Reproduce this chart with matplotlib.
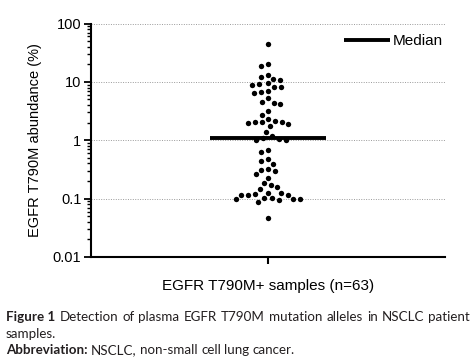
import numpy as np
import matplotlib
matplotlib.use("Agg")
import matplotlib.pyplot as plt
from matplotlib.lines import Line2D

# ---------------- data ----------------
category = "EGFR T790M+ samples (n=63)"
abundance = [44.3, 18.8, 20.1, 11.0, 13.1, 11.9, 10.7, 9.4, 9.2, 8.1, 8.8, 8.1,
             6.8, 6.5, 7.0, 5.2, 4.4, 4.1, 4.6, 3.2, 2.7, 2.03, 2.03, 1.88, 2.29,
             1.75, 2.0, 2.03, 2.16, 1.37, 1.18, 1.01, 1.01, 1.04, 1.08, 0.68,
             0.64, 0.448, 0.479, 0.394, 0.319, 0.299, 0.311, 0.262, 0.230, 0.184,
             0.172, 0.157, 0.147, 0.127, 0.119, 0.124, 0.116, 0.116, 0.102, 0.098,
             0.093, 0.089, 0.098, 0.099, 0.102, 0.116, 0.046]
ytick_vals = [0.01, 0.1, 1, 10, 100]
ytick_labels = ["0.01", "0.1", "1", "10", "100"]
ylabel = "EGFR T790M abundance (%)"
legend_label = "Median"

W, H, DPI = 473, 362, 100
fig = plt.figure(figsize=(W / DPI, H / DPI), dpi=DPI)
fig.patch.set_facecolor("white")

ax_l, ax_r, ax_t, ax_b = 91, 445, 23.5, 257
ax = fig.add_axes([ax_l / W, 1 - ax_b / H, (ax_r - ax_l) / W, (ax_b - ax_t) / H])

ax.set_yscale("log")
ax.set_ylim(ytick_vals[0], ytick_vals[-1])
ax.set_xlim(-1, 1)

# ---- beeswarm layout computed in pixel space ----
vals = np.array(abundance)
px_per_decade = (ax_b - ax_t) / 4.0
px_per_x = (ax_r - ax_l) / 2.0
d = 7.0
ypx = np.log10(vals) * px_per_decade
order = np.argsort(-ypx)
xs = np.zeros(len(vals))
placed = []
for i in order:
    cands = [0.0]
    for j in placed:
        dy = ypx[i] - ypx[j]
        if abs(dy) < d:
            dx = np.sqrt(d * d - dy * dy)
            cands += [xs[j] + dx, xs[j] - dx]
    cands = sorted(cands, key=lambda c: (abs(c), c))
    for c in cands:
        ok = all((c - xs[j]) ** 2 + (ypx[i] - ypx[j]) ** 2 >= d * d - 1e-6 for j in placed)
        if ok:
            xs[i] = c
            break
    placed.append(i)
xdata = xs / px_per_x

ax.scatter(xdata, vals, s=15, color="black", zorder=3, linewidths=0)

med = np.median(vals)
ax.plot([-0.33, 0.33], [med, med], color="black", lw=2.8, zorder=4, solid_capstyle="butt")

# ---- axes styling ----
for s in ["top", "right"]:
    ax.spines[s].set_visible(False)
for s in ["left", "bottom"]:
    ax.spines[s].set_linewidth(1.5)
ax.set_yticks(ytick_vals)
ax.set_yticklabels(ytick_labels)
ax.yaxis.set_minor_locator(matplotlib.ticker.LogLocator(base=10, subs=np.arange(2, 10)))
ax.yaxis.set_minor_formatter(matplotlib.ticker.NullFormatter())
ax.tick_params(axis="y", which="major", length=5, width=1.3, direction="out",
               labelsize=10.5, pad=2)
ax.tick_params(axis="y", which="minor", length=3, width=1.0, direction="out")
ax.set_xticks([0])
ax.set_xticklabels([""])
ax.tick_params(axis="x", length=5, width=1.5, direction="out")
for lab in ax.get_yticklabels():
    lab.set_fontfamily("Liberation Sans")
ax.yaxis.grid(True, which="major", linestyle=(0, (1, 1.5)), color="#9a9a9a", lw=0.7)
ax.set_axisbelow(True)

ax.set_ylabel(ylabel, fontsize=10.5, family="Liberation Sans", labelpad=8)
ax.set_xlabel(category, fontsize=11, family="Liberation Sans", labelpad=7)

handle = Line2D([0], [0], color="black", lw=2.8, solid_capstyle="butt")
leg = ax.legend([handle], [legend_label], loc="center right",
                bbox_to_anchor=(0.995, 0.924), frameon=False,
                prop={"family": "Liberation Sans", "size": 11},
                handlelength=3.0, handletextpad=0.2, borderpad=0, borderaxespad=0)

# ---- caption ----
cap_color = "#231f20"
cap_font = "Lato"
cap_size = 9.6
renderer = fig.canvas.get_renderer()

def place_words(words, y_px, x0, x1=None):
    texts = []
    for w, bold in words:
        t = fig.text(0, 1 - y_px / H, w, fontsize=cap_size, family=cap_font,
                     fontweight="bold" if bold else "normal", color=cap_color,
                     va="baseline", ha="left")
        texts.append(t)
    widths = [t.get_window_extent(renderer).width for t in texts]
    if x1 is None:
        sp = fig.text(0, 0, "a a", fontsize=cap_size, family=cap_font)
        sp2 = fig.text(0, 0, "aa", fontsize=cap_size, family=cap_font)
        gap = sp.get_window_extent(renderer).width - sp2.get_window_extent(renderer).width
        sp.remove(); sp2.remove()
    else:
        gap = (x1 - x0 - sum(widths)) / (len(words) - 1)
    x = x0
    for t, wdt in zip(texts, widths):
        t.set_x(x / W)
        x += wdt + gap

line1 = [("Figure 1", True)] + [(w, False) for w in
         "Detection of plasma EGFR T790M mutation alleles in NSCLC patient".split()]
place_words(line1, 321, 6, 470)
place_words([("samples.", False)], 337.5, 6)
place_words([("Abbreviation:", True)] + [(w, False) for w in
            "NSCLC, non-small cell lung cancer.".split()], 354, 6)

fig.savefig("out.png", dpi=DPI, facecolor="white")
